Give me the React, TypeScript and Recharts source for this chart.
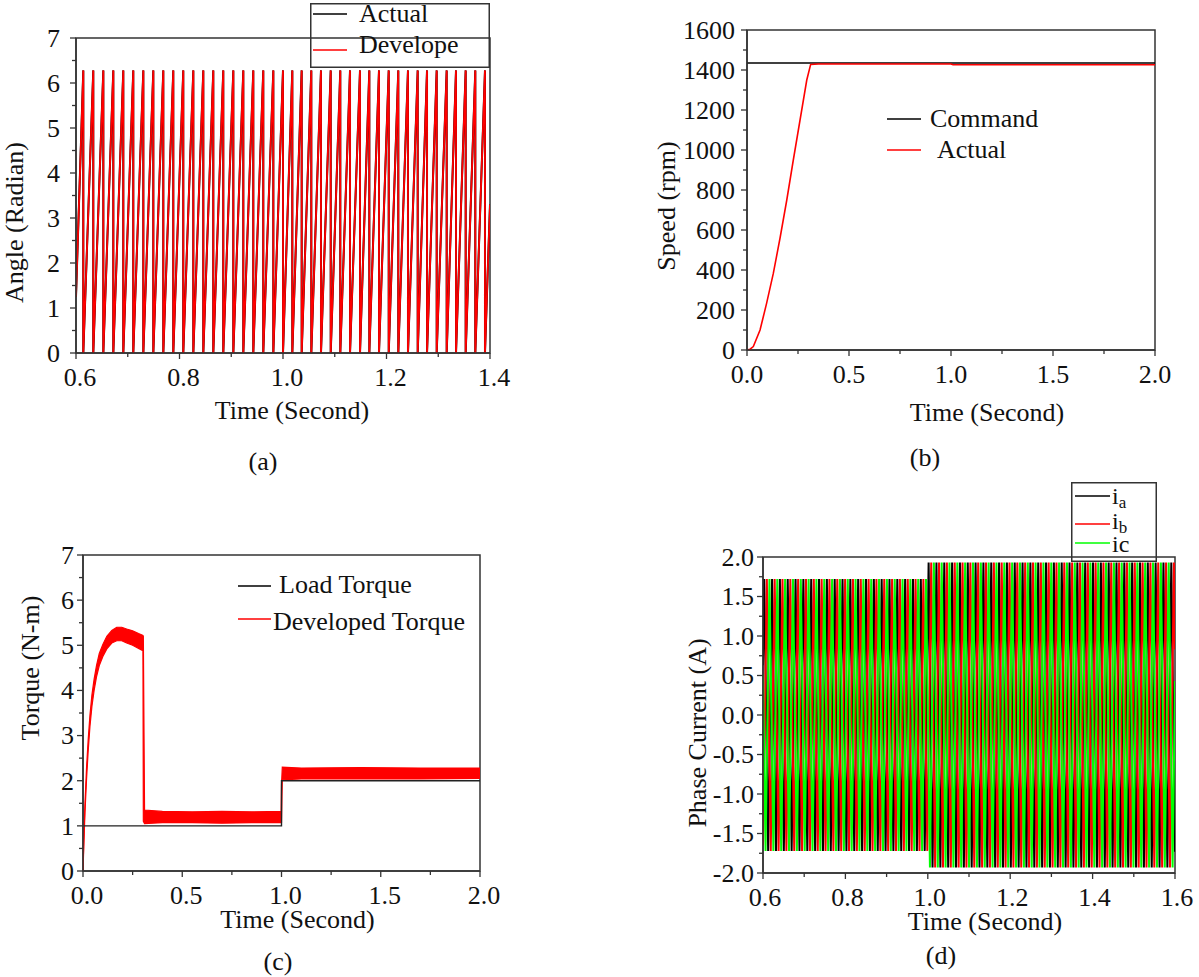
import React from 'react';
import { ComposedChart, Line, Area, XAxis, YAxis, Legend, ReferenceArea, Label } from 'recharts';

const FONT = '"Liberation Serif", "Times New Roman", Times, serif';
const AXIS = '#333333';
const TXT = '#111111';
const FS = 26;
const RED = '#ff0000';
const BLACK = '#000000';
const GREEN = '#00ff00';

// ---------------- (a) rotor angle ----------------
const angleResetTimes = [
  0.6141, 0.6334, 0.6528, 0.6721, 0.6914, 0.7107, 0.7301, 0.7494, 0.7687, 0.788,
  0.8073, 0.8267, 0.846, 0.8653, 0.8846, 0.904, 0.9233, 0.9426, 0.9619, 0.9813,
  1.0, 1.018, 1.0361, 1.0547, 1.0734, 1.0922, 1.1107, 1.1295, 1.1488, 1.1668,
  1.1855, 1.2043, 1.2228, 1.2415, 1.2603, 1.2783, 1.297, 1.3163, 1.3343, 1.353,
  1.3716, 1.3903,
];
const angleStartValue = 1.25;
const angleEndValue = 3.3;
const angleTopValue = 6.28;
const angleNames = ['Actual', 'Develope'];
const angleXMajor = [0.6, 0.8, 1.0, 1.2, 1.4];
const angleXMinor = [0.7, 0.9, 1.1, 1.3];
const angleYMajor = [0, 1, 2, 3, 4, 5, 6, 7];
const angleYMinor = [0.5, 1.5, 2.5, 3.5, 4.5, 5.5, 6.5];

// ---------------- (b) speed ----------------
const speedTimes = [0, 0.015, 0.031, 0.064, 0.096, 0.129, 0.162, 0.195, 0.227, 0.26, 0.293, 0.312, 0.35, 1.0, 1.01, 2.0];
const speedActual = [0, 4, 17, 100, 233, 383, 560, 750, 950, 1150, 1350, 1428, 1430, 1430, 1426, 1426];
const commandTimes = [0, 2.0];
const commandSpeed = [1435, 1435];
const speedNames = ['Command', 'Actual'];
const speedXMajor = [0, 0.5, 1.0, 1.5, 2.0];
const speedXMinor = [0.25, 0.75, 1.25, 1.75];
const speedYMajor = [0, 200, 400, 600, 800, 1000, 1200, 1400, 1600];
const speedYMinor = [100, 300, 500, 700, 900, 1100, 1300, 1500];

// ---------------- (c) torque ----------------
const loadTimes = [0, 1.0, 1.0, 2.0];
const loadTorque = [1, 1, 2, 2];
const devTimes = [0, 0.004, 0.01, 0.018, 0.026, 0.035, 0.045, 0.056, 0.068, 0.082, 0.1, 0.12, 0.145, 0.17, 0.195, 0.22, 0.25, 0.28, 0.302, 0.304, 0.31, 0.4, 0.55, 0.7, 0.85, 0.998, 1.0, 1.004, 1.1, 1.4, 1.7, 2.0];
const devLow = [0, 0.55, 1.3, 2.05, 2.65, 3.2, 3.65, 4.0, 4.3, 4.55, 4.75, 4.92, 5.05, 5.1, 5.1, 5.05, 5.0, 4.93, 4.88, 1.1, 1.05, 1.07, 1.07, 1.06, 1.07, 1.07, 1.07, 2.02, 2.04, 2.04, 2.04, 2.05];
const devHigh = [0, 0.7, 1.5, 2.3, 2.9, 3.45, 3.9, 4.25, 4.55, 4.82, 5.02, 5.2, 5.33, 5.4, 5.4, 5.36, 5.32, 5.26, 5.22, 5.2, 1.35, 1.32, 1.31, 1.32, 1.31, 1.32, 1.9, 2.3, 2.28, 2.29, 2.28, 2.28];
const torqueNames = ['Load Torque', 'Developed Torque'];
const torqueXMajor = [0, 0.5, 1.0, 1.5, 2.0];
const torqueXMinor = [0.25, 0.75, 1.25, 1.75];
const torqueYMajor = [0, 1, 2, 3, 4, 5, 6, 7];
const torqueYMinor = [0.5, 1.5, 2.5, 3.5, 4.5, 5.5, 6.5];

// ---------------- (d) phase currents ----------------
const currentStepTime = 1.0;
const ampBefore = 1.72;
const ampAfter = 1.93;
const iaPeakTimes = [
  0.603, 0.6125, 0.622, 0.6315, 0.641, 0.6505, 0.66, 0.6695, 0.679, 0.6885,
  0.698, 0.7075, 0.717, 0.7265, 0.736, 0.7455, 0.755, 0.7645, 0.774, 0.7835,
  0.793, 0.8025, 0.812, 0.8215, 0.831, 0.8405, 0.85, 0.8595, 0.869, 0.8785,
  0.888, 0.8975, 0.907, 0.9165, 0.926, 0.9355, 0.945, 0.9545, 0.964, 0.9735,
  0.983, 0.9925, 1.002, 1.0115, 1.021, 1.0305, 1.04, 1.0495, 1.059, 1.0685,
  1.078, 1.0875, 1.097, 1.1065, 1.116, 1.1255, 1.135, 1.1445, 1.154, 1.1635,
  1.173, 1.1825, 1.192, 1.2015, 1.211, 1.2205, 1.23, 1.2395, 1.249, 1.2585,
  1.268, 1.2775, 1.287, 1.2965, 1.306, 1.3155, 1.325, 1.3345, 1.344, 1.3535,
  1.363, 1.3725, 1.382, 1.3915, 1.401, 1.4105, 1.42, 1.4295, 1.439, 1.4485,
  1.458, 1.4675, 1.477, 1.4865, 1.496, 1.5055, 1.515, 1.5245, 1.534, 1.5435,
  1.553, 1.5625, 1.572, 1.5815, 1.591,
];
const ibPeakTimes = [
  0.6093, 0.6188, 0.6283, 0.6378, 0.6473, 0.6568, 0.6663, 0.6758, 0.6853, 0.6948,
  0.7043, 0.7138, 0.7233, 0.7328, 0.7423, 0.7518, 0.7613, 0.7708, 0.7803, 0.7898,
  0.7993, 0.8088, 0.8183, 0.8278, 0.8373, 0.8468, 0.8563, 0.8658, 0.8753, 0.8848,
  0.8943, 0.9038, 0.9133, 0.9228, 0.9323, 0.9418, 0.9513, 0.9608, 0.9703, 0.9798,
  0.9893, 0.9988, 1.0083, 1.0178, 1.0273, 1.0368, 1.0463, 1.0558, 1.0653, 1.0748,
  1.0843, 1.0938, 1.1033, 1.1128, 1.1223, 1.1318, 1.1413, 1.1508, 1.1603, 1.1698,
  1.1793, 1.1888, 1.1983, 1.2078, 1.2173, 1.2268, 1.2363, 1.2458, 1.2553, 1.2648,
  1.2743, 1.2838, 1.2933, 1.3028, 1.3123, 1.3218, 1.3313, 1.3408, 1.3503, 1.3598,
  1.3693, 1.3788, 1.3883, 1.3978, 1.4073, 1.4168, 1.4263, 1.4358, 1.4453, 1.4548,
  1.4643, 1.4738, 1.4833, 1.4928, 1.5023, 1.5118, 1.5213, 1.5308, 1.5403, 1.5498,
  1.5593, 1.5688, 1.5783, 1.5878, 1.5973,
];
const icPeakTimes = [
  0.6062, 0.6157, 0.6252, 0.6347, 0.6442, 0.6537, 0.6632, 0.6727, 0.6822, 0.6917,
  0.7012, 0.7107, 0.7202, 0.7297, 0.7392, 0.7487, 0.7582, 0.7677, 0.7772, 0.7867,
  0.7962, 0.8057, 0.8152, 0.8247, 0.8342, 0.8437, 0.8532, 0.8627, 0.8722, 0.8817,
  0.8912, 0.9007, 0.9102, 0.9197, 0.9292, 0.9387, 0.9482, 0.9577, 0.9672, 0.9767,
  0.9862, 0.9957, 1.0052, 1.0147, 1.0242, 1.0337, 1.0432, 1.0527, 1.0622, 1.0717,
  1.0812, 1.0907, 1.1002, 1.1097, 1.1192, 1.1287, 1.1382, 1.1477, 1.1572, 1.1667,
  1.1762, 1.1857, 1.1952, 1.2047, 1.2142, 1.2237, 1.2332, 1.2427, 1.2522, 1.2617,
  1.2712, 1.2807, 1.2902, 1.2997, 1.3092, 1.3187, 1.3282, 1.3377, 1.3472, 1.3567,
  1.3662, 1.3757, 1.3852, 1.3947, 1.4042, 1.4137, 1.4232, 1.4327, 1.4422, 1.4517,
  1.4612, 1.4707, 1.4802, 1.4897, 1.4992, 1.5087, 1.5182, 1.5277, 1.5372, 1.5467,
  1.5562, 1.5657, 1.5752, 1.5847, 1.5942,
];
const iaFirstSign = 1;
const ibFirstSign = 1;
const icFirstSign = -1;
const iaEdgeValues = [0.63, -1.73];
const ibEdgeValues = [-1.65, 0.83];
const icEdgeValues = [0.52, 0.43];
const currentNames = ['ia', 'ib', 'ic'];
const currentXMajor = [0.6, 0.8, 1.0, 1.2, 1.4, 1.6];
const currentXMinor = [0.7, 0.9, 1.1, 1.3, 1.5];
const currentYMajor = [-2, -1.5, -1, -0.5, 0, 0.5, 1, 1.5, 2];
const currentYMinor = [-1.75, -1.25, -0.75, -0.25, 0.25, 0.75, 1.25, 1.75];

// ---------------- table builders ----------------
const zipSeries = (ts: number[], vs: number[]) => ts.map((t, i) => ({ t, v: vs[i] }));

function buildSawtooth() {
  const pts: { t: number; v: number }[] = [{ t: angleXMajor[0], v: angleStartValue }];
  angleResetTimes.forEach((r) => {
    pts.push({ t: r, v: angleTopValue });
    pts.push({ t: r, v: 0 });
  });
  pts.push({ t: angleXMajor[angleXMajor.length - 1], v: angleEndValue });
  return pts;
}

function buildPhase(peaks: number[], firstSign: number, edges: number[]) {
  const pts: { t: number; v: number }[] = [{ t: currentXMajor[0], v: edges[0] }];
  peaks.forEach((t, i) => {
    const sign = i % 2 === 0 ? firstSign : -firstSign;
    const amp = t < currentStepTime ? ampBefore : ampAfter;
    pts.push({ t, v: sign * amp });
  });
  pts.push({ t: currentXMajor[currentXMajor.length - 1], v: edges[1] });
  return pts;
}

const angleData = buildSawtooth();
const speedData = zipSeries(speedTimes, speedActual);
const commandData = zipSeries(commandTimes, commandSpeed);
const loadData = zipSeries(loadTimes, loadTorque);
const devData = devTimes.map((t, i) => ({ t, range: [devLow[i], devHigh[i]] }));
const iaData = buildPhase(iaPeakTimes, iaFirstSign, iaEdgeValues);
const ibData = buildPhase(ibPeakTimes, ibFirstSign, ibEdgeValues);
const icData = buildPhase(icPeakTimes, icFirstSign, icEdgeValues);

// ---------------- axis helpers ----------------
const inList = (list: number[], v: number) => list.some((m) => Math.abs(m - v) < 1e-6);

function makeYTick(majors: number[], fmt: (v: number) => string, gap: number) {
  return (props: any) => {
    const { x, y, payload } = props;
    const v = Number(payload.value);
    const major = inList(majors, v);
    const len = major ? 6 : 4;
    return (
      <g>
        <line x1={x} y1={y} x2={x - len} y2={y} stroke={AXIS} strokeWidth={1.3} />
        {major && (
          <text x={x - len - gap} y={y} dy="0.34em" textAnchor="end" fontFamily={FONT} fontSize={FS} fill={TXT}>
            {fmt(v)}
          </text>
        )}
      </g>
    );
  };
}

function makeXTick(majors: number[], fmt: (v: number) => string, dx: number) {
  return (props: any) => {
    const { x, y, payload } = props;
    const v = Number(payload.value);
    const major = inList(majors, v);
    const len = major ? 6 : 4;
    return (
      <g>
        <line x1={x} y1={y} x2={x} y2={y + len} stroke={AXIS} strokeWidth={1.3} />
        {major && (
          <text x={x + dx} y={y + 33} textAnchor="middle" fontFamily={FONT} fontSize={FS} fill={TXT}>
            {fmt(v)}
          </text>
        )}
      </g>
    );
  };
}

function xTitle(text: string, baseOff: number, shift: number) {
  return (props: any) => {
    const vb = props.viewBox || { x: 0, y: 0, width: 0 };
    return (
      <text x={vb.x + vb.width / 2 + shift} y={vb.y + baseOff} textAnchor="middle" fontFamily={FONT} fontSize={FS} fill={TXT}>
        {text}
      </text>
    );
  };
}

function yTitle(text: string, dist: number, shift: number) {
  return (props: any) => {
    const vb = props.viewBox || { x: 0, y: 0, width: 0, height: 0 };
    const cx = vb.x + vb.width - dist;
    const cy = vb.y + vb.height / 2 + shift;
    return (
      <text x={cx} y={cy} dy="0.33em" transform={`rotate(-90 ${cx} ${cy})`} textAnchor="middle" fontFamily={FONT} fontSize={FS} fill={TXT}>
        {text}
      </text>
    );
  };
}

const fmt1 = (v: number) => v.toFixed(1);
const fmt0 = (v: number) => String(Math.round(v));

type Row = { label: React.ReactNode; color: string; lineY: number; textX: number; baseline: number };

function legendContent(w: number, h: number, rows: Row[], boxed: boolean, x0: number, x1: number, fs: number = FS) {
  return () => (
    <svg width={w} height={h} style={{ display: 'block', overflow: 'visible' }}>
      {boxed && <rect x={0.75} y={0.75} width={w - 1.5} height={h - 1.5} fill="none" stroke={AXIS} strokeWidth={1.5} />}
      {rows.map((r, i) => (
        <g key={i}>
          <line x1={x0} y1={r.lineY} x2={x1} y2={r.lineY} stroke={r.color} strokeWidth={1.5} />
          <text x={r.textX} y={r.baseline} fontFamily={FONT} fontSize={fs} fill={TXT}>
            {r.label}
          </text>
        </g>
      ))}
    </svg>
  );
}

const subLabel = (name: string, useSub: boolean) =>
  useSub ? (
    <>
      {name.charAt(0)}
      <tspan dy={4} fontSize={17}>
        {name.slice(1)}
      </tspan>
    </>
  ) : (
    name
  );

const axisLineStyle = { stroke: AXIS, strokeWidth: 1.5 };

const caption = (text: string, cx: number, cy: number) => (
  <div
    style={{
      position: 'absolute',
      left: cx - 40,
      top: cy - 15,
      width: 80,
      textAlign: 'center',
      fontFamily: FONT,
      fontSize: FS,
      lineHeight: '30px',
      color: TXT,
    }}
  >
    {text}
  </div>
);

export default function App() {
  return (
    <div style={{ position: 'absolute', left: 0, top: 0, width: 1199, height: 977, background: '#fff', overflow: 'hidden' }}>
      {/* (a) */}
      <div style={{ position: 'absolute', left: 0, top: 0 }}>
        <ComposedChart width={520} height={440} margin={{ top: 38, right: 30, bottom: 17, left: 0 }}>
          <XAxis
            type="number"
            dataKey="t"
            domain={[0.6, 1.4]}
            allowDataOverflow
            ticks={[...angleXMajor, ...angleXMinor].sort((a, b) => a - b)}
            interval={0}
            tickLine={false}
            tickSize={0}
            tickMargin={0}
            tick={makeXTick(angleXMajor, fmt1, 4)}
            axisLine={axisLineStyle}
            height={70}
          >
            <Label content={xTitle('Time (Second)', 66, 9)} />
          </XAxis>
          <YAxis
            type="number"
            domain={[0, 7]}
            allowDataOverflow
            ticks={[...angleYMajor, ...angleYMinor].sort((a, b) => a - b)}
            interval={0}
            tickLine={false}
            tickSize={0}
            tickMargin={0}
            tick={makeYTick(angleYMajor, fmt0, 10)}
            axisLine={axisLineStyle}
            width={76}
          >
            <Label content={yTitle('Angle (Radian)', 62, 27)} />
          </YAxis>
          <ReferenceArea x1={0.6} x2={1.4} y1={0} y2={7} fill="none" stroke={AXIS} strokeWidth={1.5} ifOverflow="visible" />
          <Line data={angleData} dataKey="v" name={angleNames[0]} type="linear" stroke={BLACK} strokeWidth={2.0} dot={false} activeDot={false} isAnimationActive={false} />
          <Line data={angleData} dataKey="v" name={angleNames[1]} type="linear" stroke={RED} strokeWidth={1.8} dot={false} activeDot={false} isAnimationActive={false} />
          <Legend
            layout="vertical"
            align="center"
            verticalAlign="middle"
            wrapperStyle={{ left: 310, top: 3, width: 180, height: 65 }}
            content={legendContent(
              180,
              65,
              [
                { label: angleNames[0], color: BLACK, lineY: 11, textX: 49, baseline: 19 },
                { label: angleNames[1], color: RED, lineY: 47, textX: 49, baseline: 50 },
              ],
              true,
              3,
              37
            )}
          />
        </ComposedChart>
      </div>

      {/* (b) */}
      <div style={{ position: 'absolute', left: 600, top: 0 }}>
        <ComposedChart width={580} height={440} margin={{ top: 30, right: 25, bottom: 20, left: 0 }}>
          <XAxis
            type="number"
            dataKey="t"
            domain={[0, 2]}
            allowDataOverflow
            ticks={[...speedXMajor, ...speedXMinor].sort((a, b) => a - b)}
            interval={0}
            tickLine={false}
            tickSize={0}
            tickMargin={0}
            tick={makeXTick(speedXMajor, fmt1, 0)}
            axisLine={axisLineStyle}
            height={70}
          >
            <Label content={xTitle('Time (Second)', 71, 36)} />
          </XAxis>
          <YAxis
            type="number"
            domain={[0, 1600]}
            allowDataOverflow
            ticks={[...speedYMajor, ...speedYMinor].sort((a, b) => a - b)}
            interval={0}
            tickLine={false}
            tickSize={0}
            tickMargin={0}
            tick={makeYTick(speedYMajor, fmt0, 6)}
            axisLine={axisLineStyle}
            width={147}
          >
            <Label content={yTitle('Speed (rpm)', 81, 16)} />
          </YAxis>
          <ReferenceArea x1={0} x2={2} y1={0} y2={1600} fill="none" stroke={AXIS} strokeWidth={1.5} ifOverflow="visible" />
          <Line data={commandData} dataKey="v" name={speedNames[0]} type="linear" stroke={BLACK} strokeWidth={1.3} dot={false} activeDot={false} isAnimationActive={false} />
          <Line data={speedData} dataKey="v" name={speedNames[1]} type="linear" stroke={RED} strokeWidth={1.6} dot={false} activeDot={false} isAnimationActive={false} />
          <Legend
            layout="vertical"
            align="center"
            verticalAlign="middle"
            wrapperStyle={{ left: 287, top: 100, width: 170, height: 70 }}
            content={legendContent(
              170,
              70,
              [
                { label: speedNames[0], color: BLACK, lineY: 19, textX: 43, baseline: 27 },
                { label: speedNames[1], color: RED, lineY: 50, textX: 50, baseline: 58 },
              ],
              false,
              0,
              34
            )}
          />
        </ComposedChart>
      </div>

      {/* (c) */}
      <div style={{ position: 'absolute', left: 0, top: 480 }}>
        <ComposedChart width={520} height={460} margin={{ top: 75, right: 40, bottom: 9, left: 0 }}>
          <XAxis
            type="number"
            dataKey="t"
            domain={[0, 2]}
            allowDataOverflow
            ticks={[...torqueXMajor, ...torqueXMinor].sort((a, b) => a - b)}
            interval={0}
            tickLine={false}
            tickSize={0}
            tickMargin={0}
            tick={makeXTick(torqueXMajor, fmt1, 4)}
            axisLine={axisLineStyle}
            height={60}
          >
            <Label content={xTitle('Time (Second)', 57, 16)} />
          </XAxis>
          <YAxis
            type="number"
            domain={[0, 7]}
            allowDataOverflow
            ticks={[...torqueYMajor, ...torqueYMinor].sort((a, b) => a - b)}
            interval={0}
            tickLine={false}
            tickSize={0}
            tickMargin={0}
            tick={makeYTick(torqueYMajor, fmt0, 3)}
            axisLine={axisLineStyle}
            width={83}
          >
            <Label content={yTitle('Torque (N-m)', 53, -45)} />
          </YAxis>
          <ReferenceArea x1={0} x2={2} y1={0} y2={7} fill="none" stroke={AXIS} strokeWidth={1.5} ifOverflow="visible" />
          <Line data={loadData} dataKey="v" name={torqueNames[0]} type="linear" stroke="#222" strokeWidth={1.4} dot={false} activeDot={false} isAnimationActive={false} />
          <Area data={devData} dataKey="range" name={torqueNames[1]} type="linear" stroke={RED} strokeWidth={1.2} fill={RED} fillOpacity={1} dot={false} activeDot={false} isAnimationActive={false} />
          <Legend
            layout="vertical"
            align="center"
            verticalAlign="middle"
            wrapperStyle={{ left: 238, top: 90, width: 240, height: 70 }}
            content={legendContent(
              240,
              70,
              [
                { label: torqueNames[0], color: BLACK, lineY: 16, textX: 41, baseline: 23 },
                { label: torqueNames[1], color: RED, lineY: 49, textX: 35, baseline: 60 },
              ],
              false,
              0,
              33
            )}
          />
        </ComposedChart>
      </div>

      {/* (d) */}
      <div style={{ position: 'absolute', left: 600, top: 470 }}>
        <ComposedChart width={599} height={480} margin={{ top: 87, right: 24, bottom: 27, left: 0 }}>
          <XAxis
            type="number"
            dataKey="t"
            domain={[0.6, 1.6]}
            allowDataOverflow
            ticks={[...currentXMajor, ...currentXMinor].sort((a, b) => a - b)}
            interval={0}
            tickLine={false}
            tickSize={0}
            tickMargin={0}
            tick={makeXTick(currentXMajor, fmt1, 2)}
            axisLine={axisLineStyle}
            height={50}
          >
            <Label content={xTitle('Time (Second)', 57, 16)} />
          </XAxis>
          <YAxis
            type="number"
            domain={[-2, 2]}
            allowDataOverflow
            ticks={[...currentYMajor, ...currentYMinor].sort((a, b) => a - b)}
            interval={0}
            tickLine={false}
            tickSize={0}
            tickMargin={0}
            tick={makeYTick(currentYMajor, fmt1, 3)}
            axisLine={axisLineStyle}
            width={163}
          >
            <Label content={yTitle('Phase Current (A)', 66, 18)} />
          </YAxis>
          <ReferenceArea x1={0.6} x2={1.6} y1={-2} y2={2} fill="none" stroke={AXIS} strokeWidth={1.5} ifOverflow="visible" />
          <Line data={iaData} dataKey="v" name={currentNames[0]} type="linear" stroke={BLACK} strokeWidth={2.0} dot={false} activeDot={false} isAnimationActive={false} />
          <Line data={ibData} dataKey="v" name={currentNames[1]} type="linear" stroke={RED} strokeWidth={2.0} dot={false} activeDot={false} isAnimationActive={false} />
          <Line data={icData} dataKey="v" name={currentNames[2]} type="linear" stroke={GREEN} strokeWidth={2.0} dot={false} activeDot={false} isAnimationActive={false} />
          <Legend
            layout="vertical"
            align="center"
            verticalAlign="middle"
            wrapperStyle={{ left: 471, top: 12, width: 86, height: 80 }}
            content={legendContent(
              86,
              80,
              [
                { label: subLabel(currentNames[0], true), color: BLACK, lineY: 14, textX: 41, baseline: 22 },
                { label: subLabel(currentNames[1], true), color: RED, lineY: 42, textX: 41, baseline: 47 },
                { label: subLabel(currentNames[2], false), color: GREEN, lineY: 61, textX: 41, baseline: 70 },
              ],
              true,
              4,
              39,
              24
            )}
          />
        </ComposedChart>
      </div>

      {caption('(a)', 263, 462)}
      {caption('(b)', 925, 458)}
      {caption('(c)', 278, 962)}
      {caption('(d)', 941, 956)}
    </div>
  );
}
